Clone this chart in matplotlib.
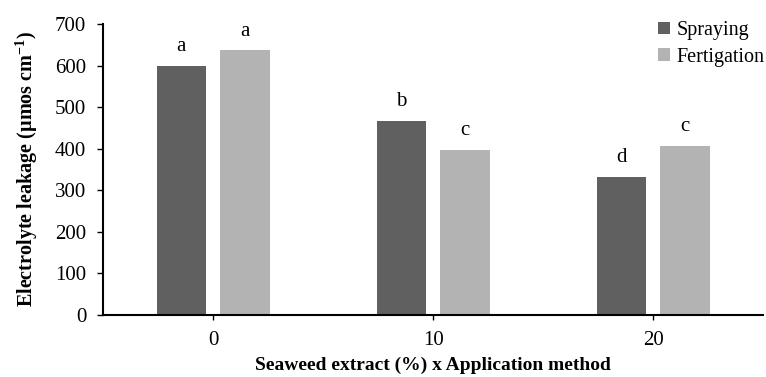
import numpy as np
from matplotlib import pyplot as plt

plt.rcParams['font.family'] = ['Liberation Serif', 'DejaVu Serif']
plt.rcParams['mathtext.fontset'] = 'custom'
plt.rcParams['mathtext.rm'] = 'Liberation Serif'
plt.rcParams['mathtext.bf'] = 'Liberation Serif:bold'

# electrolyte leakage per seaweed extract level
levels = ['0', '10', '20']
spraying = [600, 467, 333]
fertigation = [637, 398, 406]
letters_spr = ['a', 'b', 'd']
letters_fer = ['a', 'c', 'c']

fig = plt.figure(figsize=(7.66, 3.77), dpi=100)
ax = fig.add_axes([0.1345, 0.165, 0.862, 0.771])

x = np.arange(len(levels)) + 0.5
w = 0.225
off = 0.144
b1 = ax.bar(x - off, spraying, w, color='#606060', label='Spraying')
b2 = ax.bar(x + off, fertigation, w, color='#b3b3b3', label='Fertigation')

for bars, labs in ((b1, letters_spr), (b2, letters_fer)):
    for bar, lab in zip(bars, labs):
        ax.annotate(lab, (bar.get_x() + bar.get_width() / 2, bar.get_height()),
                    xytext=(0, 7), textcoords='offset points',
                    ha='center', va='bottom', fontsize=15)

ax.set_xlim(0, 3)
ax.set_ylim(0, 700)
ax.set_yticks(range(0, 701, 100))
ax.set_xticks(x)
ax.set_xticklabels(levels)
ax.tick_params(labelsize=15, width=1, length=4, pad=8)
ax.tick_params(axis='x', length=3.5, pad=8)
for s in ['top', 'right']:
    ax.spines[s].set_visible(False)
for s in ['left', 'bottom']:
    ax.spines[s].set_linewidth(1.5)

ax.set_xlabel('Seaweed extract (%) x Application method', fontsize=14, fontweight='bold', labelpad=5)
ax.set_ylabel('Electrolyte leakage (µmos cm$^{\\mathbf{-1}}$)', fontsize=14.5, fontweight='bold', labelpad=11)

ax.legend(loc='upper right', bbox_to_anchor=(1.02, 1.052), frameon=False, fontsize=14.5,
          handlelength=0.6, handleheight=0.6, handletextpad=0.3, labelspacing=0.38,
          borderaxespad=0.2)

fig.savefig('out.png', dpi=100)
